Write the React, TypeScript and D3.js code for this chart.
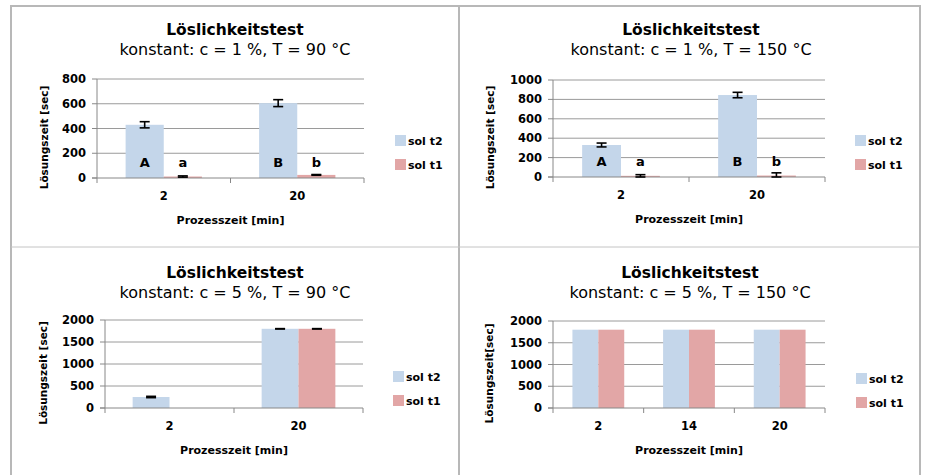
import React from 'react';
import * as d3 from 'd3';

// chart data
const seriesNames = ['sol t2', 'sol t1'];

const subtitles = [
  'konstant: c = 1 %, T = 90 °C',
  'konstant: c = 1 %, T = 150 °C',
  'konstant: c = 5 %, T = 90 °C',
  'konstant: c = 5 %, T = 150 °C',
];
const yTitles = ['Lösungszeit [sec]', 'Lösungszeit [sec]', 'Lösungszeit [sec]', 'Lösungszeit[sec]'];

const cats1 = ['2', '20'];
const t2Vals1 = [430, 605];
const t1Vals1 = [12, 25];
const t2Err1 = [25, 28];
const t1Err1 = [5, 3];
const t2Letters1 = ['A', 'B'];
const t1Letters1 = ['a', 'b'];
const yTicks1 = [0, 200, 400, 600, 800];

const cats2 = ['2', '20'];
const t2Vals2 = [330, 845];
const t1Vals2 = [12, 15];
const t2Err2 = [20, 28];
const t1Err2 = [12, 28];
const t2Letters2 = ['A', 'B'];
const t1Letters2 = ['a', 'b'];
const yTicks2 = [0, 200, 400, 600, 800, 1000];

const cats3 = ['2', '20'];
const t2Vals3 = [250, 1800];
const t1Vals3 = [0, 1800];
const t2Err3 = [15, 4];
const t1Err3 = [0, 4];
const yTicks3 = [0, 500, 1000, 1500, 2000];

const cats4 = ['2', '14', '20'];
const t2Vals4 = [1800, 1800, 1800];
const t1Vals4 = [1800, 1800, 1800];
const yTicks4 = [0, 500, 1000, 1500, 2000];

const BLUE = '#c4d6ea';
const RED = '#e2a6a6';
const FONT = '"DejaVu Sans", Verdana, sans-serif';

type PanelProps = {
  subtitle: string;
  yTitle: string;
  cats: string[];
  t2: number[];
  t1: number[];
  t2Err?: number[];
  t1Err?: number[];
  t2Letters?: string[];
  t1Letters?: string[];
  yTicks: number[];
  box: { left: number; right: number; top: number; bottom: number };
  titleX: number;
  titleY: number;
  yTitleOffset: number;
  legendX: number;
  legendY: number;
};

function Panel(p: PanelProps) {
  const { box } = p;
  const x0 = d3.scaleBand().domain(p.cats).range([box.left, box.right]).padding(0);
  const x1 = d3.scaleBand().domain(seriesNames).range([0, x0.bandwidth()]).paddingInner(0).paddingOuter(0.75);
  const y = d3.scaleLinear().domain([0, p.yTicks[p.yTicks.length - 1]]).range([box.bottom, box.top]);
  const series = [
    { name: seriesNames[0], vals: p.t2, err: p.t2Err, letters: p.t2Letters, color: BLUE },
    { name: seriesNames[1], vals: p.t1, err: p.t1Err, letters: p.t1Letters, color: RED },
  ];
  const boundaries = [...p.cats.map((c) => x0(c) as number), box.right];

  return (
    <g>
      <text x={p.titleX} y={p.titleY} textAnchor="middle" fontFamily={FONT} fontWeight="bold" fontSize={15.5} fill="#000">
        Löslichkeitstest
      </text>
      <text x={p.titleX} y={p.titleY + 20} textAnchor="middle" fontFamily={FONT} fontSize={16} fill="#000">
        {p.subtitle}
      </text>

      {/* gridlines */}
      {p.yTicks.slice(1).map((t) => (
        <line key={t} x1={box.left} x2={box.right} y1={y(t)} y2={y(t)} stroke="#9a9a9a" strokeWidth={1} />
      ))}

      {/* bars */}
      {series.map((s) =>
        p.cats.map((c, i) => {
          const bx = (x0(c) as number) + (x1(s.name) as number);
          const v = s.vals[i];
          if (!v) return null;
          return <rect key={s.name + c} x={bx} y={y(v)} width={x1.bandwidth()} height={box.bottom - y(v)} fill={s.color} />;
        })
      )}

      {/* axes */}
      <line x1={box.left} x2={box.left} y1={box.top} y2={box.bottom} stroke="#888" />
      <line x1={box.left - 5} x2={box.right} y1={box.bottom} y2={box.bottom} stroke="#888" />
      {p.yTicks.map((t) => (
        <g key={t}>
          <line x1={box.left - 5} x2={box.left} y1={y(t)} y2={y(t)} stroke="#888" />
          <text x={box.left - 11} y={y(t) + 4} textAnchor="end" fontFamily={FONT} fontWeight="bold" fontSize={11.5}>
            {t}
          </text>
        </g>
      ))}
      {boundaries.map((bx, i) => (
        <line key={i} x1={bx} x2={bx} y1={box.bottom} y2={box.bottom + 5} stroke="#888" />
      ))}
      {p.cats.map((c) => (
        <text key={c} x={(x0(c) as number) + x0.bandwidth() / 2} y={box.bottom + 22} textAnchor="middle" fontFamily={FONT} fontWeight="bold" fontSize={11.5}>
          {c}
        </text>
      ))}

      {/* error bars */}
      {series.map((s) =>
        s.err
          ? p.cats.map((c, i) => {
              const e = s.err![i];
              if (!s.vals[i] && !e) return null;
              const cx = (x0(c) as number) + (x1(s.name) as number) + x1.bandwidth() / 2;
              const hi = y(s.vals[i] + e);
              const lo = y(Math.max(0, s.vals[i] - e));
              return (
                <g key={'e' + s.name + c} stroke="#000" strokeWidth={1.6}>
                  <line x1={cx} x2={cx} y1={hi} y2={lo} />
                  <line x1={cx - 5} x2={cx + 5} y1={hi} y2={hi} />
                  <line x1={cx - 5} x2={cx + 5} y1={lo} y2={lo} />
                </g>
              );
            })
          : null
      )}

      {/* significance letters */}
      {series.map((s) =>
        s.letters
          ? p.cats.map((c, i) => (
              <text
                key={'l' + s.name + c}
                x={(x0(c) as number) + (x1(s.name) as number) + x1.bandwidth() / 2}
                y={box.bottom - 11}
                textAnchor="middle"
                fontFamily={FONT}
                fontWeight="bold"
                fontSize={13}
              >
                {s.letters![i]}
              </text>
            ))
          : null
      )}

      {/* axis titles */}
      <text x={(box.left + box.right) / 2} y={box.bottom + 46} textAnchor="middle" fontFamily={FONT} fontWeight="bold" fontSize={11}>
        Prozesszeit [min]
      </text>
      <text
        transform={`translate(${box.left - p.yTitleOffset},${(box.top + box.bottom) / 2 + 9}) rotate(-90)`}
        textAnchor="middle"
        fontFamily={FONT}
        fontWeight="bold"
        fontSize={10.5}
      >
        {p.yTitle}
      </text>

      {/* legend */}
      {series.map((s, i) => (
        <g key={'lg' + s.name} transform={`translate(${p.legendX},${p.legendY + i * 24})`}>
          <rect x={0} y={0} width={11} height={11} fill={s.color} />
          <text x={13} y={10} fontFamily={FONT} fontWeight="bold" fontSize={11}>
            {s.name}
          </text>
        </g>
      ))}
    </g>
  );
}

export default function App() {
  return (
    <div style={{ position: 'absolute', left: 0, top: 0, background: '#fff' }}>
      <svg width={926} height={475} style={{ display: 'block' }}>
        <rect width={926} height={475} fill="#fff" />
        {/* frame of the 2x2 grid */}
        <rect x={11} y={6} width={909} height={480} fill="none" stroke="#b8b8b8" strokeWidth={2} />
        <line x1={459} x2={459} y1={6} y2={475} stroke="#b8b8b8" strokeWidth={2} />
        <line x1={11} x2={920} y1={247} y2={247} stroke="#c4c4c4" strokeWidth={1} />

        <Panel
          subtitle={subtitles[0]} yTitle={yTitles[0]} cats={cats1} t2={t2Vals1} t1={t1Vals1}
          t2Err={t2Err1} t1Err={t1Err1} t2Letters={t2Letters1} t1Letters={t1Letters1} yTicks={yTicks1}
          box={{ left: 97, right: 364, top: 79, bottom: 178 }} titleX={235} titleY={35} yTitleOffset={49}
          legendX={395} legendY={135}
        />
        <Panel
          subtitle={subtitles[1]} yTitle={yTitles[1]} cats={cats2} t2={t2Vals2} t1={t1Vals2}
          t2Err={t2Err2} t1Err={t1Err2} t2Letters={t2Letters2} t1Letters={t1Letters2} yTicks={yTicks2}
          box={{ left: 553, right: 825, top: 80, bottom: 177 }} titleX={691} titleY={35} yTitleOffset={59}
          legendX={855} legendY={135}
        />
        <Panel
          subtitle={subtitles[2]} yTitle={yTitles[2]} cats={cats3} t2={t2Vals3} t1={t1Vals3}
          t2Err={t2Err3} t1Err={t1Err3} yTicks={yTicks3}
          box={{ left: 105, right: 363, top: 320, bottom: 408 }} titleX={235} titleY={278} yTitleOffset={58}
          legendX={393} legendY={371}
        />
        <Panel
          subtitle={subtitles[3]} yTitle={yTitles[3]} cats={cats4} t2={t2Vals4} t1={t1Vals4}
          yTicks={yTicks4}
          box={{ left: 553, right: 825, top: 321, bottom: 408 }} titleX={690} titleY={278} yTitleOffset={60}
          legendX={856} legendY={373}
        />
      </svg>
    </div>
  );
}
